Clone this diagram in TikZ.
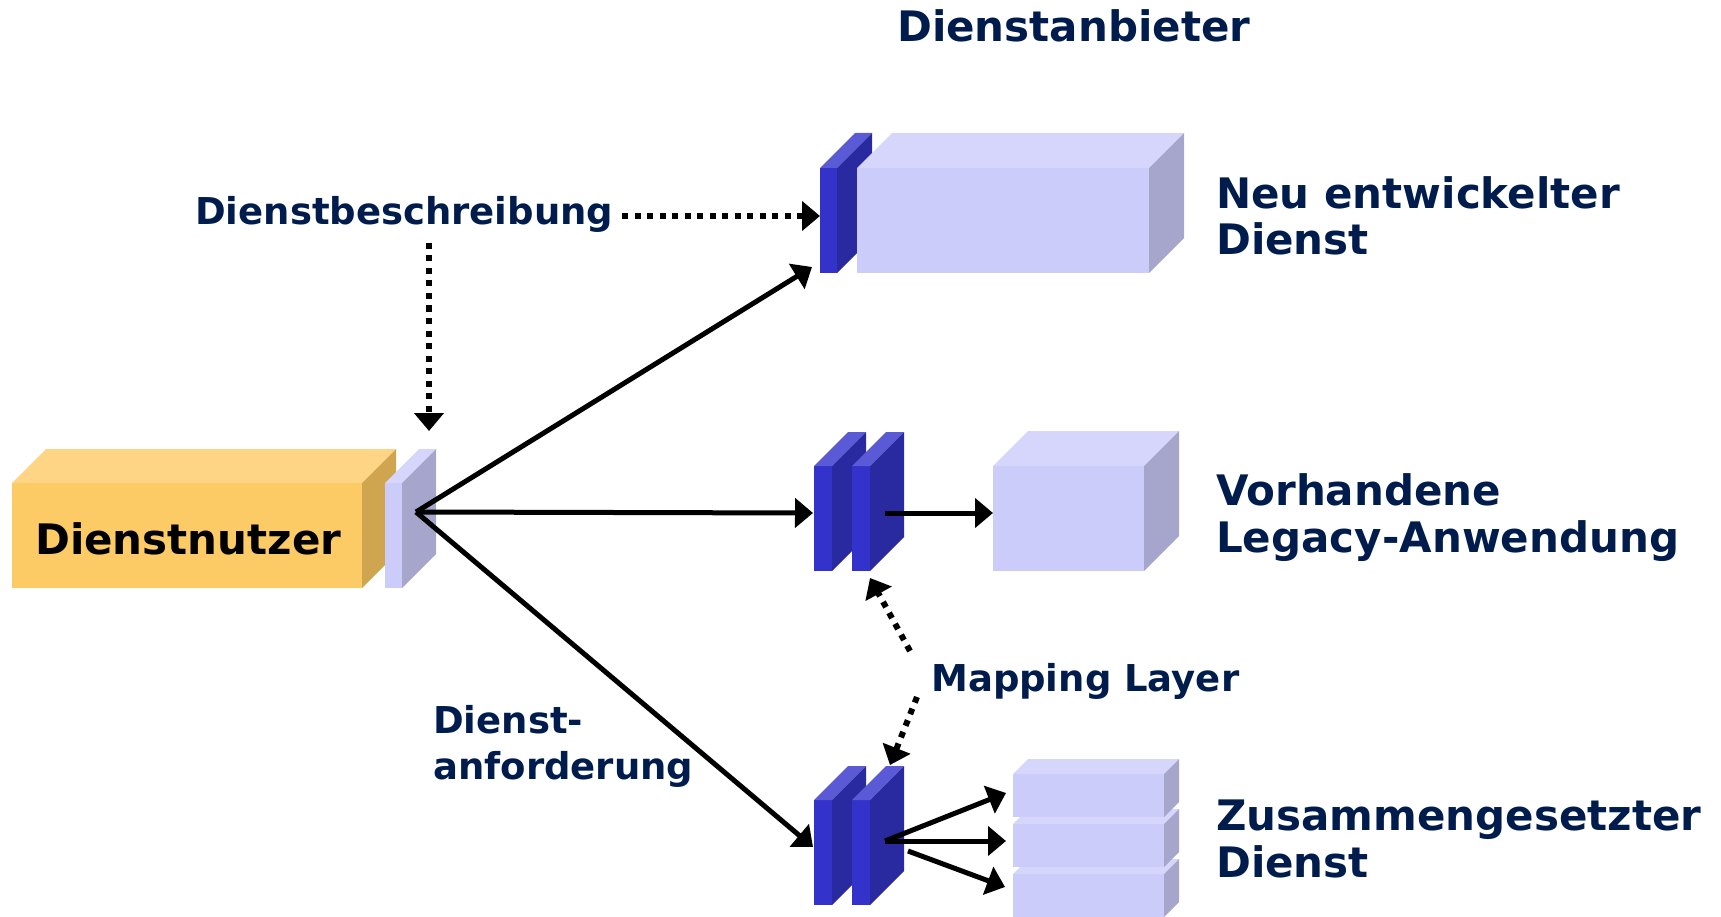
\documentclass[tikz,border=0pt]{standalone}
\usepackage{fontspec}
\setmainfont{DejaVu Sans}
\usetikzlibrary{arrows.meta}

\definecolor{schrift}{RGB}{0,28,77}
% Farben der Quader: Vorderseite, Deckel, Seite
\definecolor{gelbfront}{HTML}{FDCB66}
\definecolor{gelbtop}{HTML}{FDD584}
\definecolor{gelbside}{HTML}{CFA64F}
\definecolor{lilafront}{HTML}{CCCCFA}
\definecolor{lilatop}{HTML}{D6D6FC}
\definecolor{lilaside}{HTML}{A6A6CC}
\definecolor{blaufront}{HTML}{3333CC}
\definecolor{blautop}{HTML}{5A5AD6}
\definecolor{blauside}{HTML}{2A2AA0}

% \quader{x}{y}{breite}{hoehe}{tiefe}{farbe}
\newcommand{\quader}[6]{%
  \fill[#6front] (#1,#2) rectangle ++(#3,#4);
  \fill[#6top] (#1,#2) -- ++(#5,-#5) -- ++(#3,0) -- ++(-#5,#5) -- cycle;
  \fill[#6side] (#1+#3,#2) -- ++(#5,-#5) -- ++(0,#4) -- ++(-#5,#5) -- cycle;
}

\begin{document}
\begin{tikzpicture}[x=1pt, y=-1pt,
    fluss/.style={line width=5pt, -{Triangle[length=18pt,width=29pt]}},
    verweis/.style={line width=6pt, dash pattern=on 6pt off 6.5pt,
      -{Triangle[length=18pt,width=29pt]}},
    beschriftung/.style={font=\bfseries\fontsize{42}{47}\selectfont,
      text=schrift, anchor=base west, inner sep=0pt, align=left},
    klein/.style={beschriftung, font=\bfseries\fontsize{37}{46}\selectfont}]

  \useasboundingbox (0,0) rectangle (1721,917);

  % Dienstnutzer
  \quader{12}{483}{350}{105}{34}{gelb}
  \quader{385}{483}{17}{105}{34}{lila}
  \node[beschriftung, text=black] (nutzer) at (35,554) {Dienstnutzer};

  % neu entwickelter Dienst
  \quader{820}{168}{17}{105}{35}{blau}
  \quader{857}{168}{292}{105}{35}{lila}

  % Legacy-Anwendung mit Mapping Layer
  \quader{814}{466}{18}{105}{34}{blau}
  \quader{852}{466}{18}{105}{34}{blau}
  \quader{993}{466}{151}{105}{35}{lila}

  % zusammengesetzter Dienst
  \quader{814}{800}{18}{105}{34}{blau}
  \quader{852}{800}{18}{105}{34}{blau}
  \quader{1013}{874}{151}{43}{15}{lila}
  \quader{1013}{824}{151}{43}{15}{lila}
  \quader{1013}{774}{151}{43}{15}{lila}

  % Texte (bei zwei Zeilen liegt base auf der letzten Zeile)
  \node[beschriftung] (anbieter) at (897,42) {Dienstanbieter};
  \node[klein] (beschr) at (195,225) {Dienstbeschreibung};
  \node[beschriftung] (neu) at (1216,255) {Neu entwickelter\\Dienst};
  \node[beschriftung] (legacy) at (1216,552) {Vorhandene\\Legacy-Anwendung};
  \node[beschriftung] (zusammen) at (1216,877) {Zusammengesetzter\\Dienst};
  \node[klein] (mapping) at (931,691) {Mapping Layer};
  \node[klein] (anford) at (433,779) {Dienst-\\anforderung};

  % Anschlusspunkte
  \coordinate (quelle) at (416,512);
  \coordinate (neuein) at (812,267);
  \coordinate (legein) at (813,513);
  \coordinate (zusein) at (813,847);
  \coordinate (legaus) at (885,513);
  \coordinate (legziel) at (993,513);
  \coordinate (zusaus) at (885,841);
  \coordinate (zusaus2) at (908,851);
  \coordinate (teil1) at (1006,793);
  \coordinate (teil2) at (1006,841);
  \coordinate (teil3) at (1005,887);
  \coordinate (beschrA) at (622,216);
  \coordinate (beschrB) at (820,216);
  \coordinate (beschrC) at (429,243);
  \coordinate (beschrD) at (429,431);
  \coordinate (mapA) at (910,651);
  \coordinate (mapB) at (870,578);
  \coordinate (mapC) at (917,697);
  \coordinate (mapD) at (890,765);

  % Aufrufe
  \draw[fluss] (quelle) -- (neuein);
  \draw[fluss] (quelle) -- (legein);
  \draw[fluss] (quelle) -- (zusein);
  \draw[fluss] (legaus) -- (legziel);
  \draw[fluss] (zusaus) -- (teil1);
  \draw[fluss] (zusaus) -- (teil2);
  \draw[fluss] (zusaus2) -- (teil3);

  % Verweise
  \draw[verweis] (beschrA) -- (beschrB);
  \draw[verweis] (beschrC) -- (beschrD);
  \draw[verweis] (mapA) -- (mapB);
  \draw[verweis] (mapC) -- (mapD);

\end{tikzpicture}
\end{document}
